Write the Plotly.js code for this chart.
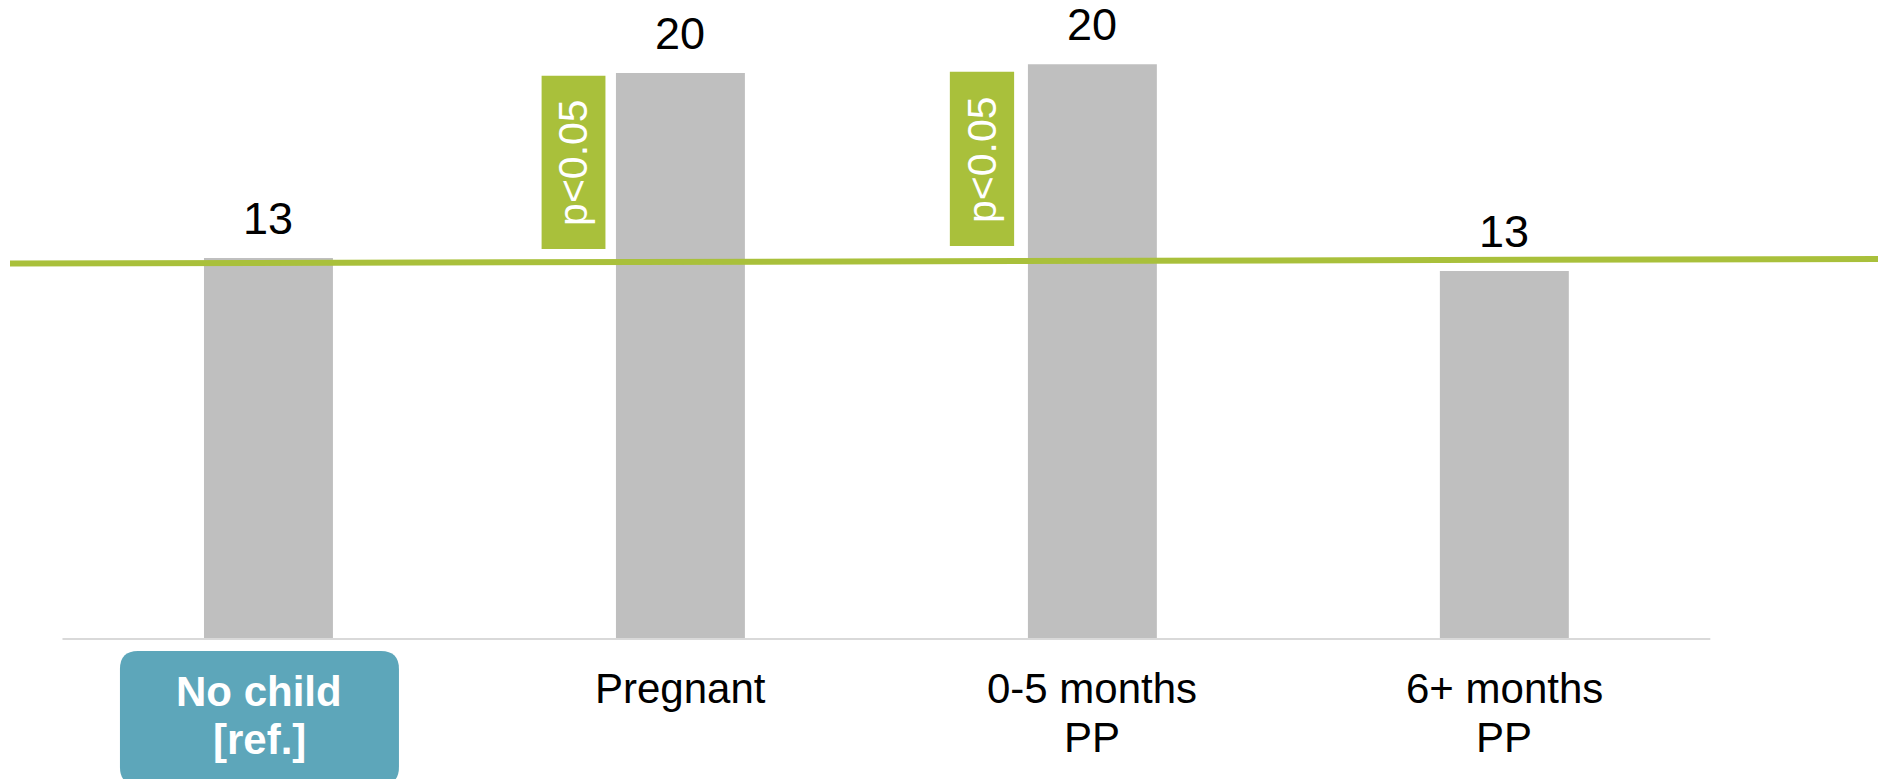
<!DOCTYPE html>
<html><head><meta charset="utf-8">
<script src="https://cdn.plot.ly/plotly-3.0.1.min.js"></script>
<style>html,body{margin:0;padding:0;background:#fff;} #chart{width:1878px;height:779px;}</style>
</head><body><div id="chart"></div>
<script>
// ---- data ----
const categories = ['No child [ref.]', 'Pregnant', '0-5 months PP', '6+ months PP'];
const tickLabels = ['No child<br>[ref.]', 'Pregnant', '0-5 months<br>PP', '6+ months<br>PP'];
const values = [13.32, 19.79, 20.10, 12.87];
const refLine = [13.13, 13.29];               // reference level line: left end, right end
const sigCategories = ['Pregnant', '0-5 months PP'];
const sigLabel = 'p&lt;0.05';

// ---- styling / layout constants ----
const FONT = 'Liberation Sans, Arial, sans-serif';
const GREEN = '#A9C03B';
const TEAL = '#5DA6BA';
const BAR = '#BFBFBF';
const xRange = [-0.6274, 3.907];
const yRange = [0, 22.343];
const sigBoxOffsets = [
  {dx0: -0.337, dx1: -0.182, y0: 13.64, y1: 19.69},
  {dx0: -0.346, dx1: -0.190, y0: 13.74, y1: 19.83}
];
const LABEL_SIZE = 42;
const lineShifts = [-24, -73];      // pixel shifts for first / second label line
const refLineShifts = [-27, -75];
const refLabelXShift = -9;

const trace = {
  type: 'bar', x: categories, y: values,
  marker: {color: BAR, line: {width: 0}},
  hoverinfo: 'skip', showlegend: false
};

const shapes = [];
const annotations = [];

// axis baseline
shapes.push({type: 'line', xref: 'x', yref: 'paper', x0: -0.5, x1: categories.length - 0.5, y0: 0, y1: 0,
  line: {color: '#D9D9D9', width: 2}, layer: 'above'});
// reference line
shapes.push({type: 'line', xref: 'x', yref: 'y', x0: xRange[0], x1: xRange[1], y0: refLine[0], y1: refLine[1],
  line: {color: GREEN, width: 6}, layer: 'above'});

// significance boxes
sigCategories.forEach((c, k) => {
  const i = categories.indexOf(c);
  const b = sigBoxOffsets[k];
  shapes.push({type: 'rect', xref: 'x', yref: 'y', x0: i + b.dx0, x1: i + b.dx1, y0: b.y0, y1: b.y1,
    fillcolor: GREEN, line: {width: 0}, layer: 'above'});
  annotations.push({xref: 'x', yref: 'y', x: i + (b.dx0 + b.dx1) / 2, y: (b.y0 + b.y1) / 2,
    text: sigLabel, textangle: -90, showarrow: false, xanchor: 'center', yanchor: 'middle',
    font: {family: FONT, size: 41, color: '#FFFFFF'}});
});

// value labels
values.forEach((v, i) => {
  annotations.push({xref: 'x', yref: 'y', x: categories[i], y: v, text: String(Math.round(v)),
    showarrow: false, xanchor: 'center', yanchor: 'bottom', yshift: 12,
    font: {family: FONT, size: 45, color: '#000000'}});
});

// reference category label box (rounded)
shapes.push({type: 'path', xref: 'x', yref: 'paper', xsizemode: 'pixel', ysizemode: 'pixel',
  xanchor: 0, yanchor: 0,
  path: 'M -130.5,-12 L 112.5,-12 Q 130.5,-12 130.5,-30 L 130.5,-128 Q 130.5,-146 112.5,-146 ' +
        'L -130.5,-146 Q -148.5,-146 -148.5,-128 L -148.5,-30 Q -148.5,-12 -130.5,-12 Z',
  fillcolor: TEAL, line: {width: 0}, layer: 'above'});

// category labels, one annotation per line
tickLabels.forEach((lbl, i) => {
  lbl.split('<br>').forEach((line, j) => {
    const isRef = i === 0;
    annotations.push({xref: 'x', yref: 'paper', x: categories[i], y: 0,
      xshift: isRef ? refLabelXShift : 0,
      yshift: isRef ? refLineShifts[j] : lineShifts[j],
      text: isRef ? '<b>' + line + '</b>' : line,
      showarrow: false, xanchor: 'center', yanchor: 'top',
      font: {family: FONT, size: LABEL_SIZE, color: isRef ? '#FFFFFF' : '#000000'}});
  });
});

const layout = {
  width: 1878, height: 779,
  margin: {l: 10, r: 0, t: 0, b: 140, pad: 0},
  paper_bgcolor: '#FFFFFF', plot_bgcolor: '#FFFFFF',
  bargap: 0.687,
  showlegend: false,
  xaxis: {type: 'category', categoryorder: 'array', categoryarray: categories, range: xRange,
    showticklabels: false, showline: false, showgrid: false, zeroline: false, ticks: '', fixedrange: true},
  yaxis: {range: yRange, visible: false, fixedrange: true},
  shapes: shapes,
  annotations: annotations
};

Plotly.newPlot('chart', [trace], layout, {displayModeBar: false, staticPlot: true});
</script>
</body></html>
